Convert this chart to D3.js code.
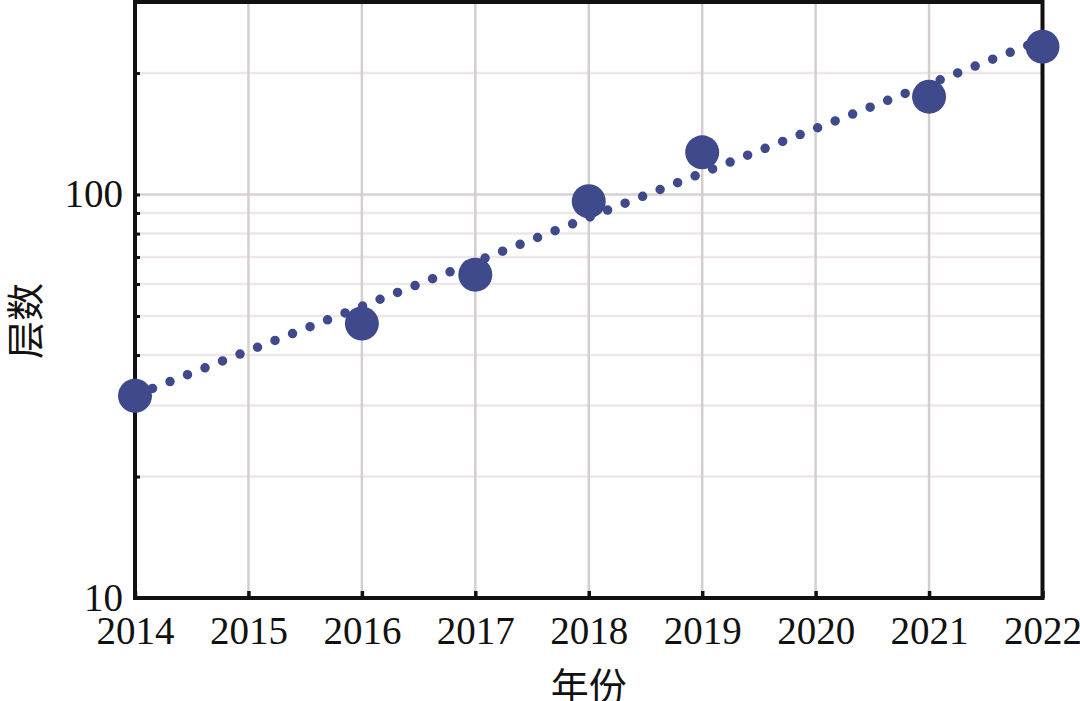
<!DOCTYPE html>
<html><head><meta charset="utf-8">
<script src="https://cdn.jsdelivr.net/npm/d3@7"></script>
<style>
html,body{margin:0;padding:0;background:#fff;}
svg{display:block;}
</style></head>
<body>
<svg id="chart" width="1080" height="701"></svg>
<script>
const years = [2014, 2016, 2017, 2018, 2019, 2021, 2022];
const layers = [31.7, 47.9, 63.3, 96.2, 127.2, 174.8, 232.5];
const trendYears = [2014, 2022];
const trendValues = [31.8, 242];
const xTickLabels = [2014, 2015, 2016, 2017, 2018, 2019, 2020, 2021, 2022];
const yMajorTicks = [10, 100];
const yMinorTicks = [20, 30, 40, 50, 60, 70, 80, 90, 200];
const xTitle = "年份";
const yTitle = "层数";

const svg = d3.select("#chart");
const L = 135, R = 1042.5, T = 2, B = 598;
const x = d3.scaleLinear().domain([2014, 2022]).range([L, R]);
const y = d3.scaleLog().domain([10, 300]).range([B, T]);

const color = "#3f4a8c";
const serif = "'Liberation Serif','Times New Roman',serif";
const cjk = "'Noto Sans CJK SC','Noto Sans CJK JP',sans-serif";

// gridlines
const grid = svg.append("g");
grid.selectAll(".hmin").data(yMinorTicks).join("line")
  .attr("x1", L).attr("x2", R).attr("y1", d => y(d)).attr("y2", d => y(d))
  .attr("stroke", "#efe6e8").attr("stroke-width", 2.5);
grid.selectAll(".hmaj").data([100]).join("line")
  .attr("x1", L).attr("x2", R).attr("y1", d => y(d)).attr("y2", d => y(d))
  .attr("stroke", "#d9d1d1").attr("stroke-width", 2.5);
grid.selectAll(".v").data(xTickLabels.slice(1, -1)).join("line")
  .attr("x1", d => x(d)).attr("x2", d => x(d)).attr("y1", T).attr("y2", B)
  .attr("stroke", "#d6cece").attr("stroke-width", 2.5);

// axes with inward ticks
const xAxis = d3.axisBottom(x).tickValues(xTickLabels).tickFormat(d3.format("d"))
  .tickSizeInner(-7).tickSizeOuter(0).tickPadding(18);
const gx = svg.append("g").attr("transform", `translate(0,${B})`).call(xAxis);
gx.select(".domain").remove();
gx.selectAll(".tick line").attr("stroke", "#111").attr("stroke-width", 3.5);
gx.selectAll(".tick text").attr("font-family", serif).attr("font-size", 39)
  .attr("fill", "#111").attr("dy", "0.71em");

const yAxisMaj = d3.axisLeft(y).tickValues(yMajorTicks).tickFormat(d3.format("d"))
  .tickSizeInner(-5).tickSizeOuter(0).tickPadding(12);
const gy = svg.append("g").attr("transform", `translate(${L},0)`).call(yAxisMaj);
gy.select(".domain").remove();
gy.selectAll(".tick line").attr("stroke", "#111").attr("stroke-width", 3);
gy.selectAll(".tick text").attr("font-family", serif).attr("font-size", 39)
  .attr("fill", "#111");

const yAxisMin = d3.axisLeft(y).tickValues(yMinorTicks).tickFormat("")
  .tickSizeInner(-5).tickSizeOuter(0);
const gy2 = svg.append("g").attr("transform", `translate(${L},0)`).call(yAxisMin);
gy2.select(".domain").remove();
gy2.selectAll(".tick line").attr("stroke", "#111").attr("stroke-width", 3);

// frame
svg.append("rect").attr("x", L).attr("y", T).attr("width", R - L).attr("height", B - T)
  .attr("fill", "none").attr("stroke", "#111").attr("stroke-width", 4);

// trend line (dotted)
const line = d3.line().x(d => x(d[0])).y(d => y(d[1]));
svg.append("path").datum(trendYears.map((yr, i) => [yr, trendValues[i]]))
  .attr("d", line).attr("fill", "none").attr("stroke", color)
  .attr("stroke-width", 9.5).attr("stroke-linecap", "round")
  .attr("stroke-dasharray", "0 18.8");

// markers
svg.append("g").selectAll("circle").data(years.map((yr, i) => [yr, layers[i]])).join("circle")
  .attr("cx", d => x(d[0])).attr("cy", d => y(d[1])).attr("r", 17)
  .attr("fill", color);

// axis titles
svg.append("text").attr("x", (L + R) / 2).attr("y", 683).attr("text-anchor", "middle")
  .attr("dominant-baseline", "central").attr("font-family", cjk).attr("font-size", 38)
  .attr("fill", "#111").text(xTitle);
svg.append("text").attr("transform", "translate(22,321) rotate(-90)")
  .attr("text-anchor", "middle").attr("dominant-baseline", "central")
  .attr("font-family", cjk).attr("font-size", 38).attr("fill", "#111").text(yTitle);
</script>
</body></html>
